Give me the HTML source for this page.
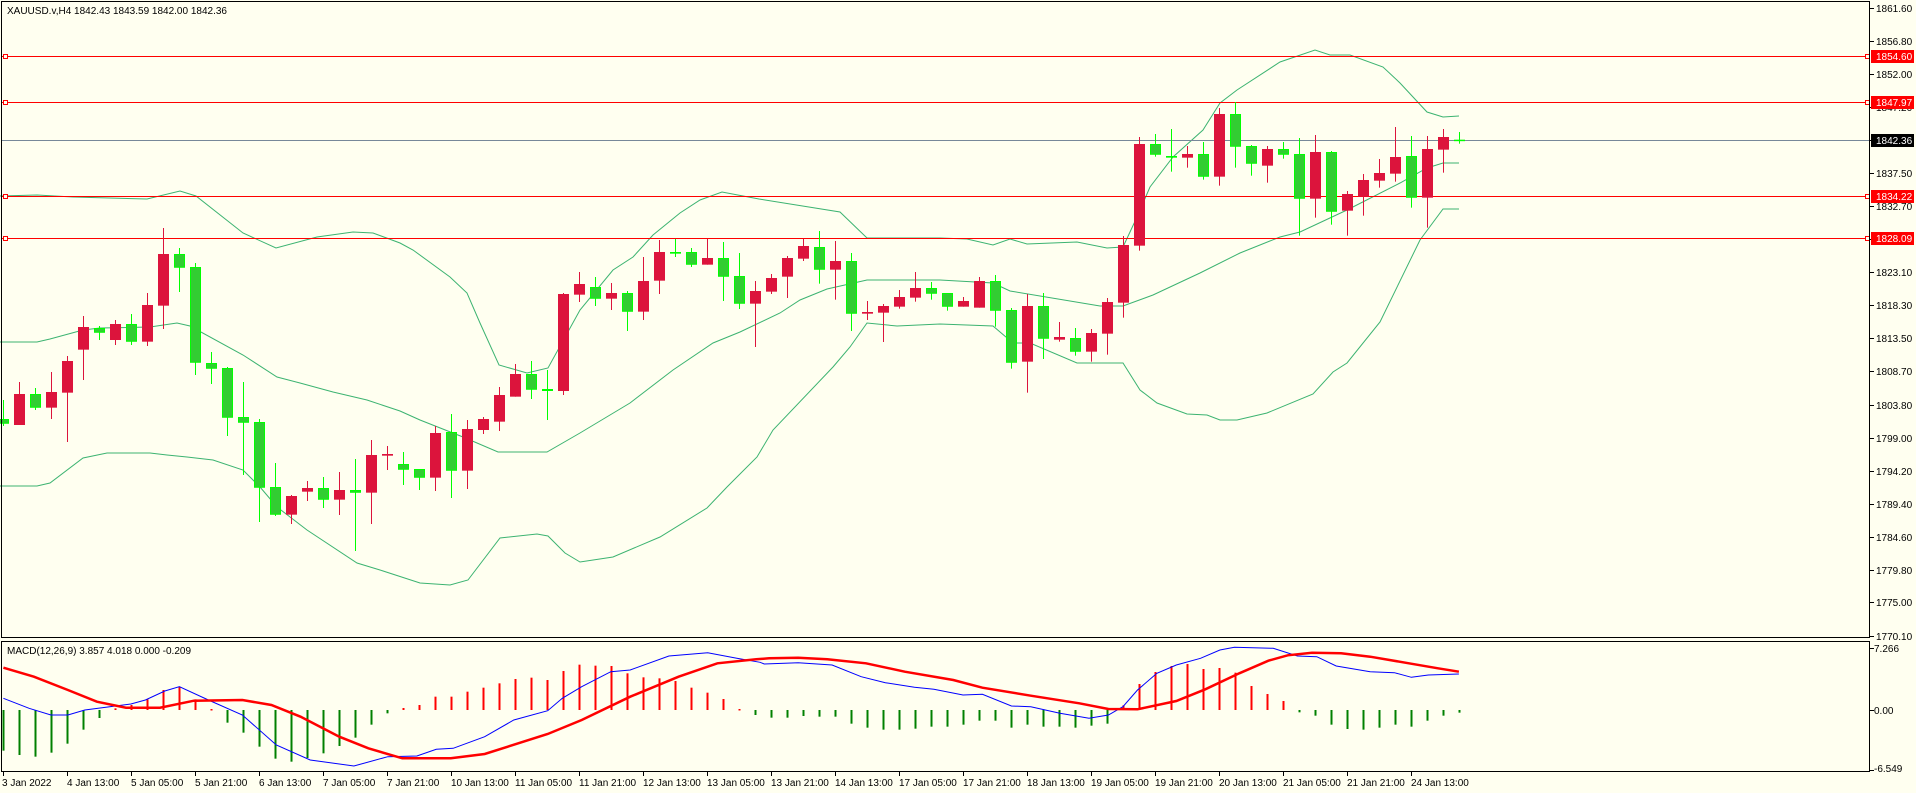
<!DOCTYPE html>
<html><head><meta charset="utf-8"><style>
html,body{margin:0;padding:0;background:#FFFFF0;}
svg{display:block;font-family:"Liberation Sans",sans-serif;}
</style></head><body>
<svg id="s" width="1916" height="793" viewBox="0 0 1916 793" xmlns="http://www.w3.org/2000/svg">
<rect x="0" y="0" width="1916" height="793" fill="#FFFFF0"/>
<g id="bands" fill="none" stroke="#3CB371" stroke-width="1"></g>
<g id="lines"></g>
<g id="candles"></g>
<g id="macd"></g>
<rect x="1.5" y="1.5" width="1868" height="636" fill="none" stroke="#000"/>
<rect x="1.5" y="641.5" width="1868" height="130" fill="none" stroke="#000"/>
<g font-size="10" fill="#000">
<text x="7" y="14">XAUUSD.v,H4  1842.43 1843.59 1842.00 1842.36</text>
<text x="7" y="654">MACD(12,26,9) 3.857 4.018 0.000 -0.209</text>
</g>
<g id="axis" font-size="10" fill="#000">
<text x="1876" y="12">1861.60</text>
<text x="1876" y="45">1856.80</text>
<text x="1876" y="78">1852.00</text>
<text x="1876" y="111">1847.20</text>
<text x="1876" y="144">1842.40</text>
<text x="1876" y="177">1837.50</text>
<text x="1876" y="210">1832.70</text>
<text x="1876" y="243">1827.90</text>
<text x="1876" y="276">1823.10</text>
<text x="1876" y="309">1818.30</text>
<text x="1876" y="342">1813.50</text>
<text x="1876" y="375">1808.70</text>
<text x="1876" y="409">1803.80</text>
<text x="1876" y="442">1799.00</text>
<text x="1876" y="475">1794.20</text>
<text x="1876" y="508">1789.40</text>
<text x="1876" y="541">1784.60</text>
<text x="1876" y="574">1779.80</text>
<text x="1876" y="606">1775.00</text>
<text x="1876" y="640">1770.10</text>
<text x="1874" y="652">7.266</text>
<text x="1874" y="714">0.00</text>
<text x="1874" y="772">-6.549</text>
</g>
<g id="labels" font-size="10" fill="#fff"></g>
<g id="time" font-size="10" fill="#000">
<text x="2" y="786">3 Jan 2022</text>
<text x="67" y="786">4 Jan 13:00</text>
<text x="131" y="786">5 Jan 05:00</text>
<text x="195" y="786">5 Jan 21:00</text>
<text x="259" y="786">6 Jan 13:00</text>
<text x="323" y="786">7 Jan 05:00</text>
<text x="387" y="786">7 Jan 21:00</text>
<text x="451" y="786">10 Jan 13:00</text>
<text x="515" y="786">11 Jan 05:00</text>
<text x="579" y="786">11 Jan 21:00</text>
<text x="643" y="786">12 Jan 13:00</text>
<text x="707" y="786">13 Jan 05:00</text>
<text x="771" y="786">13 Jan 21:00</text>
<text x="835" y="786">14 Jan 13:00</text>
<text x="899" y="786">17 Jan 05:00</text>
<text x="963" y="786">17 Jan 21:00</text>
<text x="1027" y="786">18 Jan 13:00</text>
<text x="1091" y="786">19 Jan 05:00</text>
<text x="1155" y="786">19 Jan 21:00</text>
<text x="1219" y="786">20 Jan 13:00</text>
<text x="1283" y="786">21 Jan 05:00</text>
<text x="1347" y="786">21 Jan 21:00</text>
<text x="1411" y="786">24 Jan 13:00</text>
</g>
</svg>
<script>
(function(){
var NS="http://www.w3.org/2000/svg";
function el(p,t,a){var e=document.createElementNS(NS,t);for(var k in a)e.setAttribute(k,a[k]);p.appendChild(e);return e;}
var S=document.getElementById('s');
// bands
var B=document.getElementById('bands');
var up=[[0,196],[37,195],[73,197],[147,199],[180,191],[196,196],[243,233],[276,248],[317,237],[353,232],[373,233],[400,243],[413,250],[450,277],[467,293],[480,323],[499,365],[527,373],[548,368],[580,310],[613,270],[633,257],[653,235],[680,213],[700,200],[722,192],[759,199],[840,212],[867,238],[940,238],[967,239],[993,245],[1010,239],[1027,244],[1077,242],[1107,248],[1123,247],[1137,217],[1150,187],[1173,157],[1203,130],[1220,103],[1237,90],[1280,62],[1315,50],[1330,55],[1350,55],[1383,67],[1400,83],[1427,112],[1443,117],[1459,116]];
var mid=[[0,342],[37,342],[50,339],[83,330],[100,328],[150,327],[177,323],[190,326],[243,355],[277,377],[300,383],[333,392],[367,400],[400,411],[420,420],[463,437],[498,452],[547,452],[580,433],[630,403],[673,370],[713,343],[740,332],[780,313],[800,300],[827,289],[867,280],[940,280],[993,283],[1010,291],[1100,306],[1123,306],[1153,295],[1200,273],[1240,253],[1280,237],[1300,232],[1347,210],[1400,183],[1427,168],[1443,163],[1459,163]];
var lo=[[0,486],[37,486],[50,483],[83,458],[107,453],[150,453],[167,455],[187,457],[213,460],[243,470],[260,487],[277,507],[307,530],[357,563],[380,570],[420,583],[450,585],[468,580],[500,538],[537,534],[548,536],[565,553],[580,562],[613,557],[660,537],[707,508],[727,487],[757,457],[773,430],[833,367],[850,347],[867,323],[897,326],[940,324],[993,326],[1013,343],[1030,343],[1077,363],[1123,363],[1140,390],[1157,403],[1187,414],[1207,415],[1220,420],[1237,420],[1267,413],[1313,394],[1333,372],[1347,363],[1380,322],[1420,240],[1443,209],[1459,209]];
[up,mid,lo].forEach(function(a){el(B,'polyline',{points:a.map(function(p){return p.join(',')}).join(' ')});});
// horizontal lines
var L=document.getElementById('lines');
el(L,'line',{x1:2,x2:1870,y1:140.5,y2:140.5,stroke:'#778899'});
var lv=[[56,'1854.60'],[102,'1847.97'],[196,'1834.22'],[238,'1828.09']];
var LB=document.getElementById('labels');
lv.forEach(function(v){
 el(L,'line',{x1:2,x2:1870,y1:v[0]+.5,y2:v[0]+.5,stroke:'#FF0000'});
 el(L,'rect',{x:3.5,y:v[0]-1.5,width:4,height:4,fill:'#FFFFF0',stroke:'#FF0000'});
 el(L,'rect',{x:1865.5,y:v[0]-1.5,width:4,height:4,fill:'#FFFFF0',stroke:'#FF0000'});
 el(LB,'rect',{x:1871,y:v[0]-6,width:43,height:13,fill:'#FF0000'});
 var t=el(LB,'text',{x:1876,y:v[0]+4});t.textContent=v[1];
});
el(LB,'rect',{x:1871,y:134,width:43,height:13,fill:'#000'});
var tt=el(LB,'text',{x:1876,y:144});tt.textContent='1842.36';
// axis ticks
var A=document.getElementById('axis');
[8,41,74,107,140,173,206,239,272,305,338,371,405,438,471,504,537,570,602,636,648,710,770].forEach(function(y){el(A,'line',{x1:1870,x2:1874,y1:y+.5,y2:y+.5,stroke:'#000'});});
for(var k=0;k<23;k++){var x=3+64*k;el(A,'line',{x1:x+.5,x2:x+.5,y1:772,y2:776,stroke:'#000'});}
// candles
var D="G,657,671,600,678;R,582,675,546,675;G,582,623,564,630;R,576,623,516,657;R,483,578,468,726;R,381,449,348,540;G,384,398,378,420;R,372,420,360,435;G,372,425,342,435;R,315,425,279,438;R,162,317,84,387;G,162,203,144,276;G,201,488,189,525;G,489,506,456,552;G,504,653,501,708;G,651,668,546,825;G,666,863,657,966;G,861,944,789,948;R,888,944,885,972;R,864,875,843,903;G,864,899,831,924;R,870,899,816,945;G,870,878,777,1053;R,765,878,720,972;R,762,767,738,810;G,792,809,756,855;G,807,833,807,870;R,699,833,678,873;G,696,812,642,894;R,687,812,660,867;R,657,690,651,702;R,585,665,561,693;R,522,590,492,590;G,522,569,483,597;G,567,573,510,660;R,282,573,279,585;R,252,284,216,306;G,261,296,231,318;R,279,296,249,330;G,279,335,273,393;R,243,335,171,360;R,156,242,120,282;G,156,161,117,171;G,156,194,144,201;R,174,194,116,194;G,174,230,126,303;G,228,311,159,327;R,273,311,243,441;R,234,275,222,282;R,174,230,168,294;R,138,176,116,183;G,141,209,93,251;R,183,209,123,299;G,183,341,159,393;R,336,341,303,360;R,318,338,312,426;R,291,320,270,326;R,264,293,216,305;G,264,281,246,299;G,279,320,279,332;R,303,320,291,320;R,243,323,231,323;G,243,332,225,380;G,330,488,324,506;R,318,485,282,578;G,318,416,279,477;R,411,419,366,425;G,414,455,384,467;R,399,455,387,485;R,306,401,294,464;R,135,308,108,353;R,312,617,291,632;G,312,344,282,350;G,348,353,267,395;R,342,353,318,383;G,342,410,306,419;R,222,410,204,437;G,222,320,186,383;G,318,371,315,407;R,327,377,318,428;G,327,344,306,356;G,342,476,294,587;R,336,476,285,533;G,336,515,333,554;R,462,512,453,587;R,420,470,402,527;R,399,422,357,443;R,351,401,261,425;G,348,473,288,503;R,327,473,288,563;R,291,329,267,398;G,299,301,276,311";
var C=document.getElementById('candles');
D.split(';').forEach(function(s,i){
 var a=s.split(','),off=(i>=71)?40:200,f=function(v){return off+(+v)/3;};
 var bt=f(a[1]),bb=f(a[2]),wt=f(a[3]),wb=f(a[4]),x=3+16*i;
 var col=a[0]=='R'?'#DC143C':'#32CD32',wc=a[0]=='R'?'#DC143C':'#00FF00';
 el(C,'rect',{x:x,y:wt,width:1,height:Math.max(1,wb-wt),fill:wc});
 var h=bb-bt;
 if(h<2){el(C,'rect',{x:x-5,y:bt,width:11,height:Math.max(1.5,h),fill:wc});}
 else{el(C,'rect',{x:x-5,y:bt,width:11,height:h,fill:col});
  if(a[0]=='G')el(C,'rect',{x:x-4.5,y:bt+.5,width:10,height:h-1,fill:'none',stroke:'#00FF00','stroke-width':1});}
});
// MACD
var M=document.getElementById('macd');
var h1=[362,375,380,368,341,299,264,235,225,208,180,170,208,237,278,308,350,386,395,384,370,348,323,284,250,234,225,200,200,185,173,160,147,143,150,123,104,107,108,130,142,145,153,173,188,207,237];
var h2=[255,263,263,258,260,260,281,293,299,299,296,290,290,284,272,272,293,284,290,290,293,287,281,226,162,126,108,102,117,114,128,168,192,213,247,257,284,297,299,293,284,290,272,257,248];
var H=h1.concat(h2);
var redIdx={7:1,8:1,9:1,10:1,11:1,12:1,13:1};
H.forEach(function(z,i){
 var y=630+z/3,x=3+16*i;
 var red=(z<240);
 var top=Math.min(y,710),hh=Math.max(1.5,Math.abs(y-710));
 el(M,'rect',{x:x-0.5,y:top,width:2,height:hh,fill:red?'#FF0000':'#008000'});
});
function cv(a,x0){return a.map(function(p){return (x0+p[0]/2.063).toFixed(1)+','+(630+p[1]/3).toFixed(1)}).join(' ');}
var blue1=[[7,205],[60,235],[105,255],[140,255],[175,240],[270,222],[300,210],[340,183],[370,170],[430,210],[500,255],[570,345],[640,390],[730,408],[800,380],[860,378],[900,358],[935,355],[1000,320],[1060,270],[1130,242],[1160,205],[1200,170],[1260,125],[1300,120],[1380,78],[1460,68],[1520,85],[1568,97]];
var blue2=[[50,102],[120,98],[190,105],[250,140],[300,158],[360,172],[400,178],[460,195],[500,193],[560,228],[600,230],[660,250],[720,265],[760,255],[790,230],[820,180],[860,130],[900,105],[950,85],[990,60],[1020,52],[1100,55],[1150,78],[1190,80],[1230,108],[1300,125],[1350,128],[1385,142],[1420,135],[1483,132]];
var red1=[[7,113],[70,140],[140,180],[200,215],[260,233],[330,233],[400,212],[500,210],[560,225],[620,260],[700,320],[760,355],[830,385],[930,385],[1000,372],[1130,312],[1200,270],[1300,200],[1400,140],[1480,100],[1560,88]];
var red2=[[60,85],[120,83],[180,88],[260,100],[340,125],[440,150],[500,173],[600,197],[700,220],[760,237],[820,238],[900,213],[960,178],[1030,130],[1090,92],[1130,76],[1180,68],[1240,70],[1300,80],[1380,100],[1440,115],[1483,125]];
el(M,'polyline',{points:cv(blue1,0)+' '+cv(blue2,740),fill:'none',stroke:'#0000FF','stroke-width':1});
el(M,'polyline',{points:cv(red1,0)+' '+cv(red2,740),fill:'none',stroke:'#FF0000','stroke-width':2.5});
})();
</script>
</body></html>
